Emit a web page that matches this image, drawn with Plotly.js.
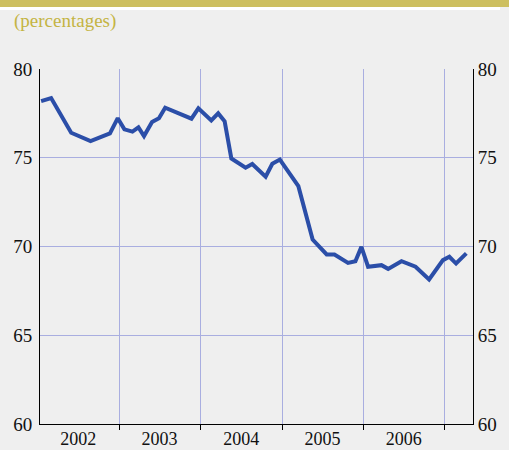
<!DOCTYPE html>
<html>
<head>
<meta charset="utf-8">
<script src="https://cdn.plot.ly/plotly-3.0.1.min.js"></script>
<style>
html,body{margin:0;padding:0;background:#efefef;}
#chart{width:509px;height:450px;}
</style>
</head>
<body>
<div id="chart"></div>
<script>
const dates = [
  '2002-01-15','2002-03-01','2002-05-30','2002-08-25','2002-11-20','2002-12-25',
  '2003-01-24','2003-03-01','2003-03-28','2003-04-22','2003-05-28','2003-06-28','2003-07-26',
  '2003-11-21','2003-12-22',
  '2004-02-18','2004-03-20','2004-04-18','2004-05-18','2004-07-21','2004-08-20',
  '2004-10-19','2004-11-18','2004-12-22',
  '2005-03-15','2005-05-18','2005-07-20','2005-08-24','2005-10-24','2005-11-26','2005-12-23',
  '2006-01-22','2006-03-23','2006-04-22','2006-06-21','2006-08-23','2006-10-23','2006-12-24',
  '2007-01-22','2007-02-21','2007-04-08'
];
const values = [
  78.19,78.36,76.41,75.94,76.37,77.23,
  76.60,76.47,76.71,76.22,77.01,77.22,77.82,
  77.20,77.78,
  77.10,77.50,77.05,74.96,74.44,74.65,
  73.93,74.66,74.90,
  73.40,70.39,69.55,69.55,69.08,69.17,69.98,
  68.86,68.95,68.74,69.17,68.86,68.14,69.23,
  69.42,69.04,69.61
];
const yearBoundaries = ['2003-01-01','2004-01-01','2005-01-01','2006-01-01','2007-01-01'];
const yearLabelPos = ['2002-07-01','2003-07-01','2004-07-01','2005-07-01','2006-07-01'];
const yearLabels = ['2002','2003','2004','2005','2006'];
const yTicks = [60,65,70,75,80];
const xRange = ['2002-01-10','2007-05-08'];

const gridColor = '#a9aee0';
const fontFam = 'Liberation Serif';

const traces = [
  {x: dates, y: values, type: 'scatter', mode: 'lines',
   line: {color: '#2b4ea8', width: 4}, xaxis: 'x', yaxis: 'y', hoverinfo: 'skip'},
  {x: [xRange[0]], y: [60], type: 'scatter', mode: 'markers', marker: {opacity: 0},
   xaxis: 'x2', yaxis: 'y2', hoverinfo: 'skip'}
];

const W = 509, H = 450, ml = 40, mr = 36, mt = 69, mb = 26;
const pw = W - ml - mr, ph = H - mt - mb;
const px = v => (v - ml) / pw;
const py = v => 1 + (mt - v) / ph;

const layout = {
  width: W, height: H,
  margin: {l: ml, r: mr, t: mt, b: mb},
  paper_bgcolor: '#efefef', plot_bgcolor: '#efefef',
  showlegend: false,
  font: {family: fontFam, size: 18, color: '#111'},
  xaxis: {type: 'date', range: xRange, tickmode: 'array', tickvals: yearBoundaries,
    showticklabels: false, ticks: 'outside', ticklen: 5, tickcolor: '#000', tickwidth: 1,
    showgrid: true, gridcolor: gridColor, gridwidth: 1,
    showline: true, linecolor: '#000', linewidth: 1, zeroline: false},
  xaxis2: {type: 'date', range: xRange, overlaying: 'x', anchor: 'y', side: 'bottom',
    tickmode: 'array', tickvals: yearLabelPos, ticktext: yearLabels,
    ticks: '', showgrid: false, showline: false, zeroline: false, ticklabelstandoff: 2,
    tickfont: {family: fontFam, size: 18, color: '#111'}},
  yaxis: {range: [60, 80], tickmode: 'array', tickvals: yTicks,
    showgrid: true, gridcolor: gridColor, gridwidth: 1, zeroline: false,
    showline: true, linecolor: '#000', linewidth: 1, ticks: '', ticklabelstandoff: 3,
    tickfont: {family: fontFam, size: 19, color: '#111'}},
  yaxis2: {range: [60, 80], overlaying: 'y', side: 'right', anchor: 'x', tickmode: 'array', tickvals: yTicks,
    showgrid: false, zeroline: false, showline: true, linecolor: '#000', linewidth: 1, ticks: '',
    tickfont: {family: fontFam, size: 19, color: '#111'}},
  shapes: [
    {type: 'rect', xref: 'paper', yref: 'paper', x0: px(0), x1: px(W), y0: py(7), y1: py(0),
     fillcolor: '#cdbf5f', line: {width: 0}, layer: 'below'},
    {type: 'rect', xref: 'paper', yref: 'paper', x0: px(0), x1: px(500), y0: py(10), y1: py(7),
     fillcolor: '#ffffff', line: {width: 0}, layer: 'below'}
  ],
  annotations: [
    {text: '(percentages)', xref: 'paper', yref: 'paper', x: px(12), y: py(21),
     xanchor: 'left', yanchor: 'middle', showarrow: false,
     font: {family: fontFam, size: 19, color: '#c4b443'}}
  ]
};

Plotly.newPlot('chart', traces, layout, {displayModeBar: false});
</script>
</body>
</html>
